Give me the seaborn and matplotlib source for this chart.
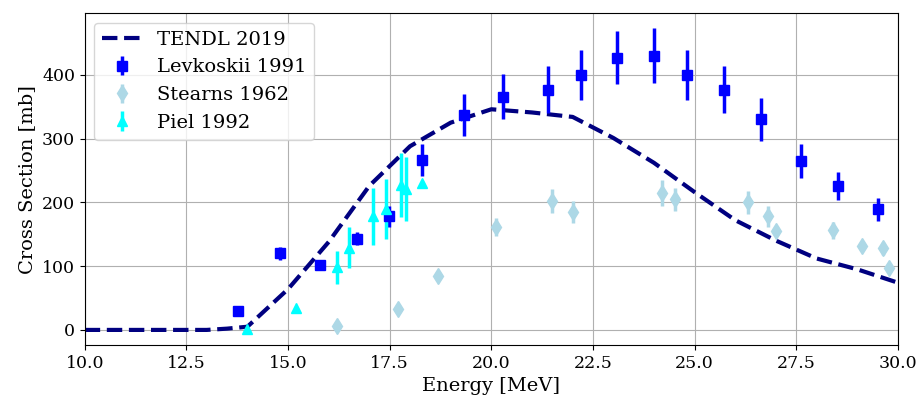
import numpy as np
import pandas as pd
import matplotlib
matplotlib.use("Agg")
import matplotlib.pyplot as plt
import seaborn as sns

# TENDL 2019 evaluation
tendl_e = [10, 11, 12, 13, 13.5, 14, 15, 16, 17, 18, 19, 20, 21, 22, 23, 24, 25, 26, 27, 28, 29, 30]
tendl_xs = [0, 0, 0, 0, 2, 5, 64, 138, 226, 288, 325, 346, 341, 334, 301, 262, 216, 172, 140, 112, 95, 74]

# Levkoskii 1991
lev_e = [13.78, 14.79, 15.79, 16.70, 17.48, 18.30, 19.33, 20.29, 21.40, 22.20, 23.09, 24.01, 24.81, 25.71, 26.62, 27.61, 28.52, 29.52]
lev_xs = [30, 120, 102, 143, 178, 267, 337, 366, 377, 400, 427, 430, 400, 377, 330, 265, 225, 189]
lev_err = [4, 10, 8, 10, 17, 25, 33, 36, 37, 39, 42, 43, 39, 37, 33, 26, 22, 18]

# Stearns 1962
ste_e = [16.20, 17.70, 18.69, 20.11, 21.49, 22.01, 24.19, 24.51, 26.30, 26.81, 26.99, 28.41, 29.11, 29.62, 29.79]
ste_xs = [6, 33, 84, 161, 202, 185, 215, 205, 200, 178, 155, 156, 131, 128, 97]
ste_err = [2, 3, 4, 14, 19, 17, 20, 18, 18, 16, 6, 13, 5, 10, 2]

# Piel 1992
piel_e = [13.98, 15.19, 16.20, 16.51, 17.09, 17.41, 17.79, 17.89, 18.30]
piel_xs = [1, 34, 98, 129, 178, 189, 227, 221, 230]
piel_err = [1, 2, 26, 32, 45, 47, 50, 50, 2]

plt.rcParams['font.family'] = 'DejaVu Serif'
plt.rcParams['font.size'] = 14
plt.rcParams['xtick.labelsize'] = 12.5
plt.rcParams['ytick.labelsize'] = 12.5

tendl = pd.DataFrame({'Energy': tendl_e, 'XS': tendl_xs})

fig, ax = plt.subplots(figsize=(9.21, 4.0), dpi=100)
sns.lineplot(data=tendl, x='Energy', y='XS', ax=ax, color='navy', linestyle='--',
             linewidth=3, label='TENDL 2019')
ax.errorbar(lev_e, lev_xs, yerr=lev_err, fmt='s', color='blue', markersize=6.5,
            elinewidth=2.5, label='Levkoskii 1991')
ax.errorbar(ste_e, ste_xs, yerr=ste_err, fmt='d', color='lightblue', markersize=8,
            elinewidth=2.5, label='Stearns 1962')
ax.errorbar(piel_e, piel_xs, yerr=piel_err, fmt='^', color='cyan', markersize=7,
            elinewidth=2.5, label='Piel 1992')

ax.set_xlim(10, 30)
ax.set_xlabel('Energy [MeV]')
ax.set_ylabel('Cross Section [mb]')
ax.grid(True)
ax.legend(loc='upper left')

fig.subplots_adjust(left=0.092, right=0.975, top=0.967, bottom=0.1375)
fig.savefig('out.png', dpi=100)
